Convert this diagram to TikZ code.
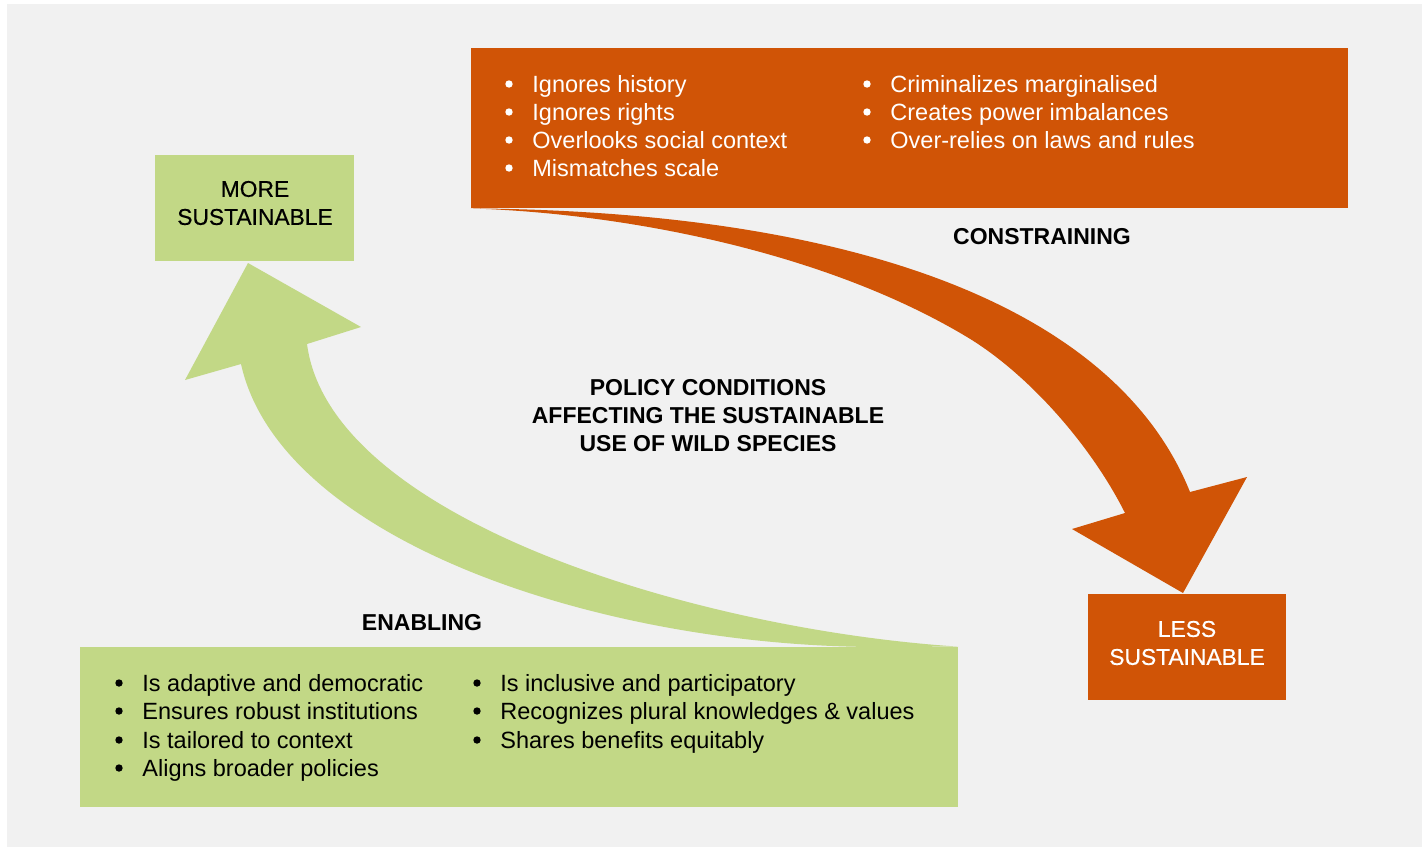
\documentclass[tikz,border=0pt]{standalone}
\usepackage{fontspec}
\setmainfont{Liberation Sans}
\definecolor{bg}{RGB}{241,241,241}
\definecolor{orng}{RGB}{208,84,6}
\definecolor{grn}{RGB}{194,216,134}
\tikzset{
  boxshape/.style={rectangle, inner sep=0pt, draw=none},
  btext/.style={anchor=base west, inner sep=0pt, font=\fontsize{11.75}{14}\selectfont},
  head/.style={inner sep=0pt, align=center, font=\fontsize{11.5}{14}\selectfont\bfseries},
  endtext/.style={inner sep=0pt, align=center, font=\fontsize{11.4}{14}\selectfont\addfontfeature{FakeBold=0.5}},
  dot/.style={circle, inner sep=0pt, minimum size=3.7pt},
}
\begin{document}
\begin{tikzpicture}[x=0.5pt,y=-0.5pt]
\useasboundingbox (0,0) rectangle (1422,847);
\fill[white] (0,0) rectangle (1422,847);
\fill[bg] (7,4) rectangle (1422,847);

% boxes
\node[boxshape, fill=orng, minimum width=438.5pt, minimum height=80pt] (cbox) at (909.5,128) {};
\node[boxshape, fill=grn, minimum width=439pt, minimum height=80pt] (ebox) at (519,727) {};
\node[boxshape, fill=grn, minimum width=99.5pt, minimum height=53pt] (more) at (254.5,208) {};
\node[boxshape, fill=orng, minimum width=99pt, minimum height=53pt] (less) at (1187,647) {};

% orange arrow (constraining)
\fill[orng] (cbox.south west)
  .. controls (850,211) and (1115,305) .. (1190,492)
  -- (1247,477) -- (1183,593) -- (1072,529) -- (1125,513)
  .. controls (1092,447) and (1030,375) .. (967,337)
  .. controls (822,250) and (620,213) .. (cbox.south west)
  -- cycle;

% green arrow (enabling)
\fill[grn] (ebox.north east) -- (880,647)
  .. controls (600,647) and (280,540) .. (241,364)
  -- (185,380) -- (248,263) -- (361,327) -- (307,344)
  .. controls (330,520) and (700,630) .. (ebox.north east)
  -- cycle;

% end labels
\node[endtext] (moretxt) at (255,203) {MORE\\SUSTAINABLE};
\node[endtext, text=white] (lesstxt) at (1187,643) {LESS\\SUSTAINABLE};

% headings
\node[head] (constr) at (1042,237) {CONSTRAINING};
\node[head] (enabl) at (422,623) {ENABLING};
\node[head] (policy) at (708,416) {POLICY CONDITIONS\\AFFECTING THE SUSTAINABLE\\USE OF WILD SPECIES};

% constraining bullets
\begin{scope}[every node/.append style={text=white}]
\node[btext] (c1) at (532,92) {Ignores history};
\node[btext] (c2) at (532,120) {Ignores rights};
\node[btext] (c3) at (532,148) {Overlooks social context};
\node[btext] (c4) at (532,176) {Mismatches scale};
\node[btext] (c5) at (890,92) {Criminalizes marginalised};
\node[btext] (c6) at (890,120) {Creates power imbalances};
\node[btext] (c7) at (890,148) {Over-relies on laws and rules};
\end{scope}
\foreach \yy in {84,112,140,168} \node[dot, fill=white] at (509,\yy) {};
\foreach \yy in {84,112,140} \node[dot, fill=white] at (867,\yy) {};

% enabling bullets
\node[btext] (e1) at (142,691) {Is adaptive and democratic};
\node[btext] (e2) at (142,719) {Ensures robust institutions};
\node[btext] (e3) at (142,748) {Is tailored to context};
\node[btext] (e4) at (142,776) {Aligns broader policies};
\node[btext] (e5) at (500,691) {Is inclusive and participatory};
\node[btext] (e6) at (500,719) {Recognizes plural knowledges \& values};
\node[btext] (e7) at (500,748) {Shares benefits equitably};
\foreach \yy in {683,711,740,768} \node[dot, fill=black] at (119,\yy) {};
\foreach \yy in {683,711,740} \node[dot, fill=black] at (477,\yy) {};
\end{tikzpicture}
\end{document}
